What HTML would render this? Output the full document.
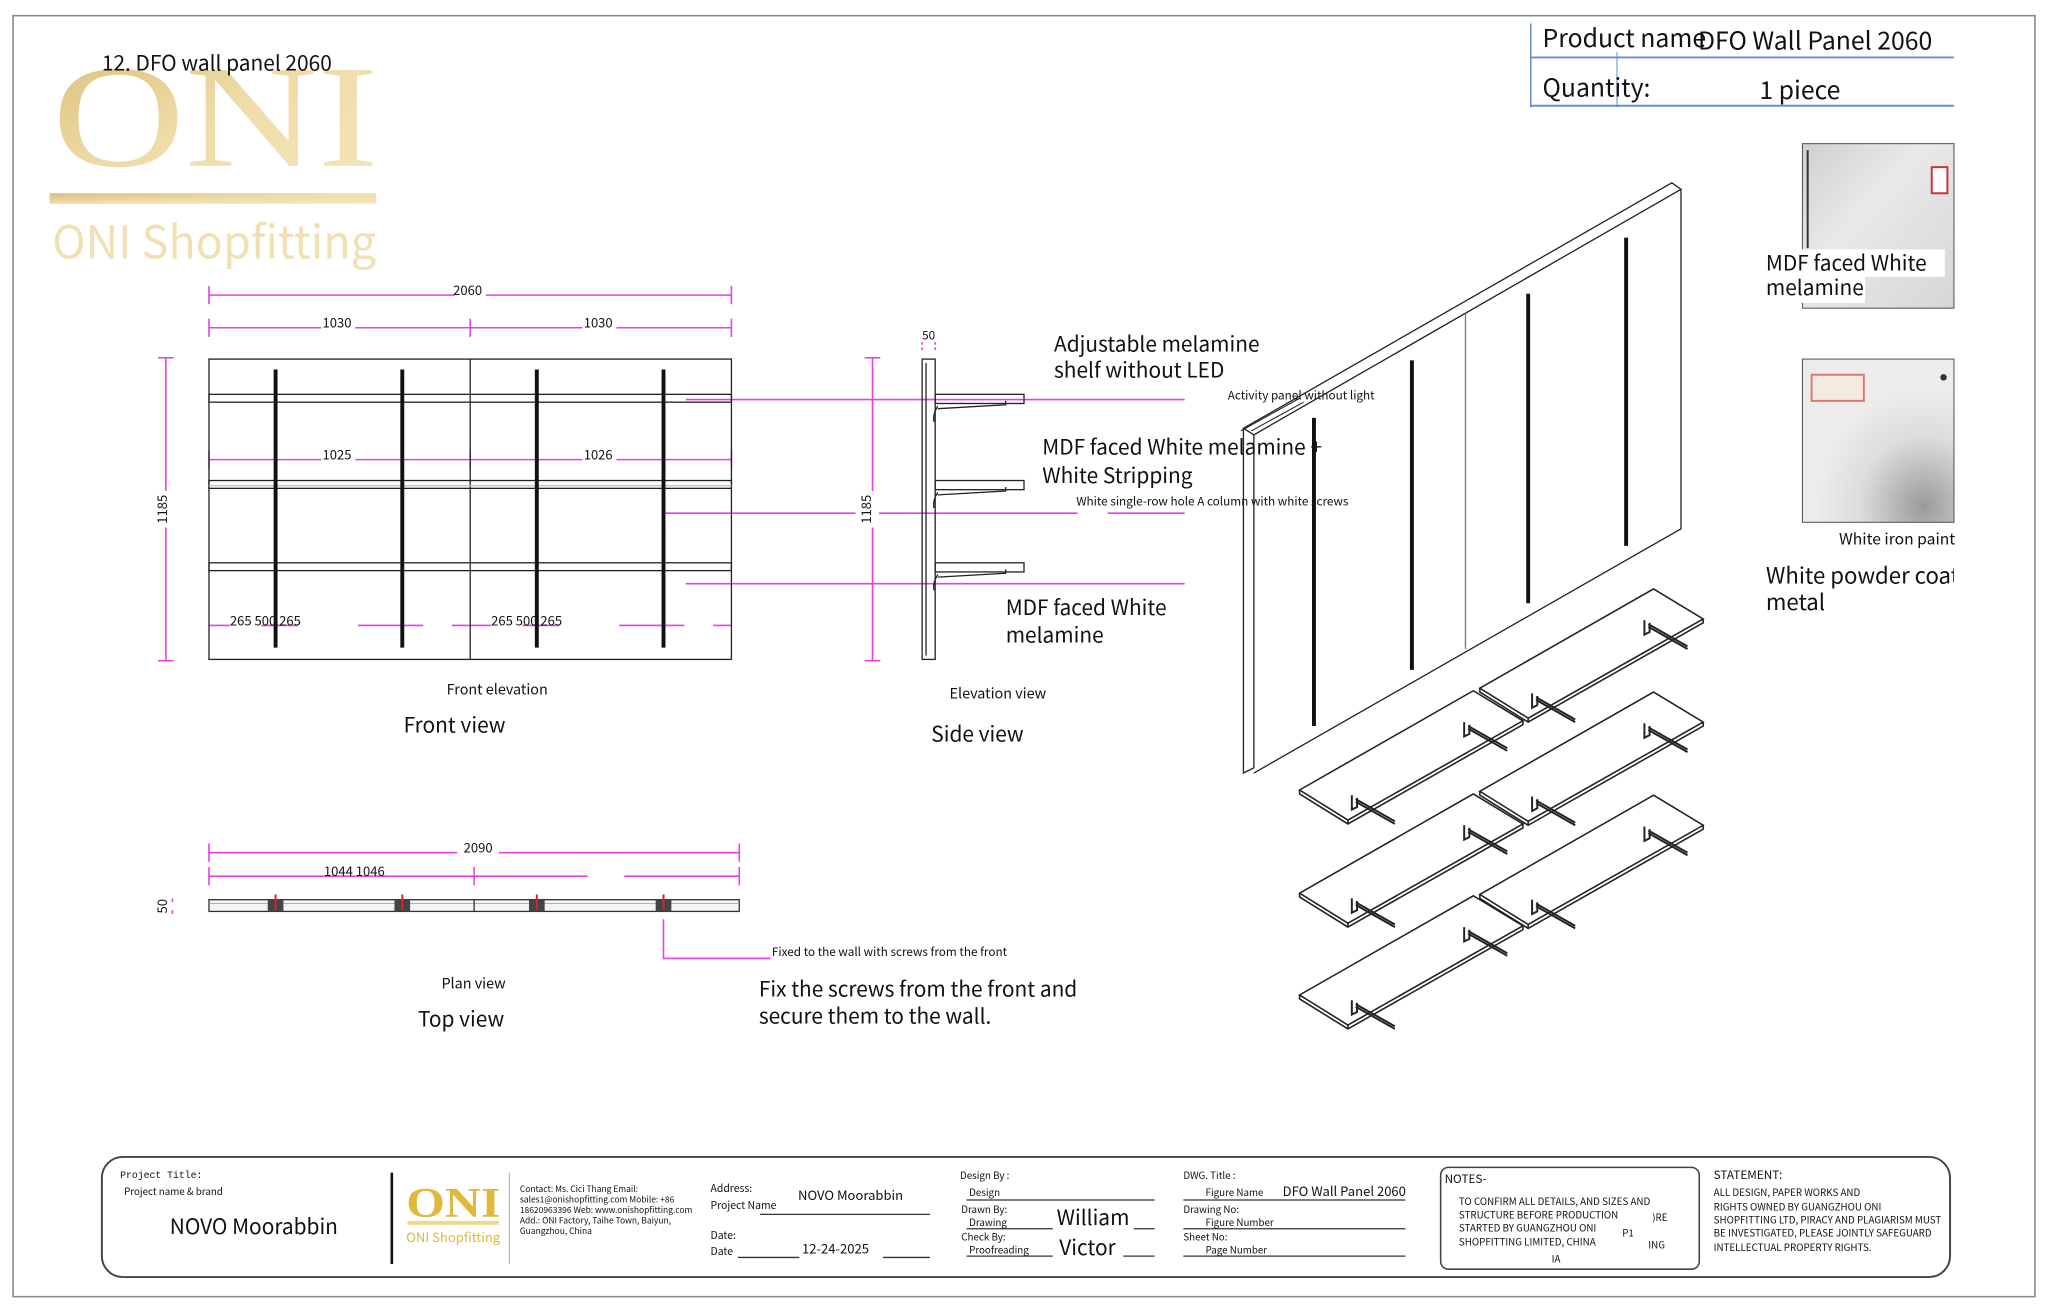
<!DOCTYPE html>
<html><head><meta charset="utf-8"><style>
html,body{margin:0;padding:0;background:#fff}
svg{display:block}
text{font-family:"Noto Sans CJK SC","Liberation Sans",sans-serif;fill:#111}
.pk{stroke:#e83fe8;stroke-width:1.2;fill:none}
.bk{stroke:#222;fill:none;stroke-width:1}
.bar{stroke:#111;stroke-width:3}
</style></head><body>
<svg width="2048" height="1311" viewBox="0 0 1568 1004" preserveAspectRatio="none" xmlns="http://www.w3.org/2000/svg">
<defs>
<linearGradient id="gold" x1="0" x2="1" y1="0" y2="1"><stop offset="0" stop-color="#d9bf78"/><stop offset="0.5" stop-color="#efdca8"/><stop offset="1" stop-color="#f4e6bd"/></linearGradient>
<linearGradient id="ph1" x1="0" x2="1" y1="0" y2="1"><stop offset="0" stop-color="#cfcfcf"/><stop offset="0.4" stop-color="#e9e9e9"/><stop offset="1" stop-color="#d6d6d6"/></linearGradient>
<radialGradient id="ph2" cx="0.8" cy="0.9" r="0.7"><stop offset="0" stop-color="#9a9a9a"/><stop offset="0.6" stop-color="#dcdcdc"/><stop offset="1" stop-color="#ececec"/></radialGradient>
<g id="sh" stroke="#222" fill="none" stroke-width="1.2">
<path d="M0 0L133 -76L171 -53L37 23Z" fill="#fff"/>
<path d="M0 0v3L37 26L171 -50V-53"/>
<path d="M37 23v3"/>
<path d="M40 4v11l4 -2v-7M43 9l30 17M43 7l30 17" stroke-width="1.5"/>
<path d="M126 -52v11l4 -2v-7M129 -47l30 17M129 -49l30 17" stroke-width="1.5"/>
</g>
</defs>
<rect x="10" y="12" width="1548" height="981" fill="none" stroke="#888" stroke-width="1.2"/>
<!-- logo -->
<text x="40" y="127" font-size="112" style="font-family:'Liberation Serif',serif;fill:url(#gold)" textLength="250" lengthAdjust="spacingAndGlyphs">ONI</text>
<rect x="38" y="148" width="250" height="8" fill="url(#gold)"/>
<text x="40" y="198" font-size="35" style="fill:#f0e0b4" textLength="248" lengthAdjust="spacingAndGlyphs">ONI Shopfitting</text>
<text x="78" y="54" font-size="16">12. DFO wall panel 2060</text>
<!-- product table -->
<line x1="1172" y1="18" x2="1172" y2="82" stroke="#6a8fc8" stroke-width="1.2"/>
<line x1="1172" y1="44" x2="1496" y2="44" stroke="#6a8fc8" stroke-width="1.5"/>
<line x1="1172" y1="81" x2="1496" y2="81" stroke="#6a8fc8" stroke-width="1.5"/>
<line x1="1238" y1="40" x2="1238" y2="82" stroke="#6a8fc8" stroke-width="0.8"/>
<text x="1181" y="36" font-size="19">Product name</text>
<text x="1300" y="38" font-size="19">DFO Wall Panel 2060</text>
<text x="1181" y="74" font-size="19">Quantity:</text>
<text x="1347" y="76" font-size="19">1 piece</text>
<!-- photos -->
<rect x="1380" y="110" width="116" height="126" fill="url(#ph1)" stroke="#555" stroke-width="0.8"/>
<line x1="1384" y1="115" x2="1384" y2="190" stroke="#333" stroke-width="1.5"/>
<rect x="1479" y="128" width="12" height="20" fill="#fff" stroke="#c33" stroke-width="1.5"/>
<rect x="1352" y="191" width="137" height="21" fill="#fff"/>
<rect x="1352" y="212" width="76" height="20" fill="#fff"/>
<text x="1352" y="207" font-size="16">MDF faced White</text>
<text x="1352" y="226" font-size="16">melamine</text>
<rect x="1380" y="275" width="116" height="125" fill="url(#ph2)" stroke="#555" stroke-width="0.8"/>
<rect x="1387" y="287" width="40" height="20" fill="#f4eae0" stroke="#d77" stroke-width="1.5"/>
<circle cx="1488" cy="289" r="2.5" fill="#333"/>
<text x="1408" y="417" font-size="12">White iron paint</text>
<svg x="1340" y="425" width="156" height="60"><text x="12" y="22" font-size="17">White powder coated</text><text x="12" y="42" font-size="17">metal</text></svg>
<!-- front view -->
<g class="pk">
<line x1="160" y1="226" x2="348" y2="226"/><line x1="372" y1="226" x2="560" y2="226"/>
<line x1="160" y1="219" x2="160" y2="233"/><line x1="560" y1="219" x2="560" y2="233"/>
<line x1="160" y1="251" x2="246" y2="251"/><line x1="272" y1="251" x2="446" y2="251"/><line x1="472" y1="251" x2="560" y2="251"/>
<line x1="160" y1="244" x2="160" y2="258"/><line x1="360" y1="244" x2="360" y2="258"/><line x1="560" y1="244" x2="560" y2="258"/>
<line x1="160" y1="352" x2="246" y2="352"/><line x1="272" y1="352" x2="446" y2="352"/><line x1="472" y1="352" x2="560" y2="352"/>
<line x1="160" y1="345" x2="160" y2="359"/><line x1="360" y1="345" x2="360" y2="359"/><line x1="560" y1="345" x2="560" y2="359"/>
<path d="M160 479h16M200 479h28M274 479h50M346 479h14M360 479h16M400 479h28M474 479h50M546 479h14" />
<line x1="127" y1="274" x2="127" y2="376"/><line x1="127" y1="404" x2="127" y2="506"/>
<line x1="121" y1="274" x2="133" y2="274"/><line x1="121" y1="506" x2="133" y2="506"/>
<line x1="525" y1="306" x2="907" y2="306"/>
<line x1="508" y1="393" x2="655" y2="393"/><line x1="673" y1="393" x2="825" y2="393"/><line x1="848" y1="393" x2="907" y2="393"/>
<line x1="525" y1="447" x2="907" y2="447"/>
<line x1="668" y1="274" x2="668" y2="376"/><line x1="668" y1="404" x2="668" y2="506"/>
<line x1="662" y1="274" x2="674" y2="274"/><line x1="662" y1="506" x2="674" y2="506"/>
<path d="M706 262v6M716 262v6" stroke-dasharray="2 2"/>
</g>
<text x="358" y="226" font-size="10" text-anchor="middle">2060</text>
<text x="258" y="251" font-size="10" text-anchor="middle">1030</text>
<text x="458" y="251" font-size="10" text-anchor="middle">1030</text>
<text x="258" y="352" font-size="10" text-anchor="middle">1025</text>
<text x="458" y="352" font-size="10" text-anchor="middle">1026</text>
<text x="176" y="479" font-size="10">265 500 265</text>
<text x="376" y="479" font-size="10">265 500 265</text>
<text x="128" y="390" font-size="10" transform="rotate(-90 128 390)" text-anchor="middle">1185</text>
<text x="667" y="390" font-size="10" transform="rotate(-90 667 390)" text-anchor="middle">1185</text>
<text x="711" y="260" font-size="9" text-anchor="middle">50</text>
<g class="bk">
<rect x="160" y="275" width="400" height="230"/>
<line x1="360" y1="275" x2="360" y2="505"/>
<rect x="160" y="302" width="400" height="6"/>
<rect x="160" y="368" width="400" height="6"/>
<line x1="160" y1="372" x2="560" y2="372" stroke="#bbb"/>
<rect x="160" y="431" width="400" height="6"/>
</g>
<g class="bar"><line x1="211" y1="283" x2="211" y2="496"/><line x1="308" y1="283" x2="308" y2="496"/><line x1="411" y1="283" x2="411" y2="496"/><line x1="508" y1="283" x2="508" y2="496"/></g>
<!-- side view -->
<g class="bk">
<rect x="706" y="275" width="10" height="230"/>
<line x1="709" y1="278" x2="709" y2="502"/>
<rect x="716" y="302" width="68" height="7"/><path d="M718 313l52 -3v-3M718 311q-4 6 -3 12"/>
<rect x="716" y="368" width="68" height="7"/><path d="M718 379l52 -3v-3M718 377q-4 6 -3 12"/>
<rect x="716" y="431" width="68" height="7"/><path d="M718 442l52 -3v-3M718 440q-4 6 -3 12"/>
</g>
<text x="807" y="269" font-size="16">Adjustable melamine</text>
<text x="807" y="289" font-size="16">shelf without LED</text>
<text x="940" y="306" font-size="9">Activity panel without light</text>
<text x="798" y="348" font-size="16">MDF faced White melamine +</text>
<text x="798" y="370" font-size="16">White Stripping</text>
<text x="824" y="387" font-size="9">White single-row hole A column with white screws</text>
<text x="770" y="471" font-size="16">MDF faced White</text>
<text x="770" y="492" font-size="16">melamine</text>
<text x="342" y="532" font-size="11">Front elevation</text>
<text x="309" y="561" font-size="16">Front view</text>
<text x="727" y="535" font-size="11">Elevation view</text>
<text x="713" y="568" font-size="16">Side view</text>
<!-- plan view -->
<g class="pk">
<line x1="160" y1="653" x2="350" y2="653"/><line x1="382" y1="653" x2="566" y2="653"/>
<line x1="160" y1="646" x2="160" y2="660"/><line x1="566" y1="646" x2="566" y2="660"/>
<line x1="160" y1="671" x2="450" y2="671"/><line x1="478" y1="671" x2="566" y2="671"/>
<line x1="160" y1="664" x2="160" y2="678"/><line x1="363" y1="664" x2="363" y2="678"/><line x1="566" y1="664" x2="566" y2="678"/>
<path d="M508 704V734H590"/>
<path d="M132 688v3M132 697v3"/>
</g>
<text x="355" y="653" font-size="10">2090</text>
<text x="248" y="671" font-size="10">1044 1046</text>
<text x="128" y="694" font-size="10" transform="rotate(-90 128 694)" text-anchor="middle">50</text>
<rect x="160" y="689" width="406" height="9" fill="#f4f4f4" stroke="#333"/>
<line x1="160" y1="692" x2="566" y2="692" stroke="#999" stroke-width="0.6"/>
<line x1="363" y1="689" x2="363" y2="698" stroke="#333"/>
<g fill="#444"><rect x="205" y="689" width="12" height="9"/><rect x="302" y="689" width="12" height="9"/><rect x="405" y="689" width="12" height="9"/><rect x="502" y="689" width="12" height="9"/></g>
<g stroke="#d22" stroke-width="1.5"><line x1="211" y1="685" x2="211" y2="697"/><line x1="308" y1="685" x2="308" y2="697"/><line x1="411" y1="685" x2="411" y2="697"/><line x1="508" y1="685" x2="508" y2="697"/></g>
<text x="591" y="732" font-size="9">Fixed to the wall with screws from the front</text>
<text x="338" y="757" font-size="11">Plan view</text>
<text x="320" y="786" font-size="16">Top view</text>
<text x="581" y="763" font-size="16">Fix the screws from the front and</text>
<text x="581" y="784" font-size="16">secure them to the wall.</text>
<!-- isometric panel -->
<g class="bk" stroke-width="1.2">
<path d="M952 328L1280 140L1287 145L960 333Z"/>
<path d="M952 328V592L960 588V333"/>
<path d="M1287 145V405L960 592"/>
<line x1="1122" y1="240" x2="1122" y2="497" stroke="#777"/>
<path d="M950 330l45 -25M958 330l40 -22" stroke-width="0.8"/>
</g>
<g class="bar"><line x1="1006" y1="320" x2="1006" y2="556"/><line x1="1081" y1="276" x2="1081" y2="513"/><line x1="1170" y1="225" x2="1170" y2="462"/><line x1="1245" y1="182" x2="1245" y2="418"/></g>
<use href="#sh" x="1133" y="527"/>
<use href="#sh" x="995" y="605"/>
<use href="#sh" x="1133" y="606"/>
<use href="#sh" x="995" y="684"/>
<use href="#sh" x="1133" y="685"/>
<use href="#sh" x="995" y="762"/>
<!-- title block -->
<rect x="78" y="886" width="1415" height="92" rx="16" fill="none" stroke="#444" stroke-width="1.5"/>
<text x="92" y="902" font-size="7.5" style="font-family:'Liberation Mono',monospace">Project Title:</text>
<text x="95" y="915" font-size="7.5">Project name &amp; brand</text>
<text x="130" y="945" font-size="16">NOVO Moorabbin</text>
<line x1="300" y1="898" x2="300" y2="968" stroke="#111" stroke-width="2"/>
<text x="311" y="932" font-size="32" font-weight="bold" style="font-family:'Liberation Serif',serif;fill:#e0b83a" textLength="72" lengthAdjust="spacingAndGlyphs">ONI</text>
<rect x="312" y="935" width="70" height="3" fill="#eed98a"/>
<text x="311" y="951" font-size="10" style="fill:#e0b83a" textLength="72" lengthAdjust="spacingAndGlyphs">ONI Shopfitting</text>
<line x1="390" y1="898" x2="390" y2="968" stroke="#bbb"/>
<g font-size="6.5"><text x="398" y="913">Contact: Ms. Cici Thang Email:</text><text x="398" y="921">sales1@onishopfitting.com Mobile: +86</text><text x="398" y="929">18620963396 Web: www.onishopfitting.com</text><text x="398" y="937">Add.: ONI Factory, Taihe Town, Baiyun,</text><text x="398" y="945">Guangzhou, China</text></g>
<g font-size="8"><text x="544" y="913">Address:</text><text x="544" y="926">Project Name</text><text x="544" y="949">Date:</text><text x="544" y="961">Date</text></g>
<text x="611" y="919" font-size="10">NOVO Moorabbin</text>
<text x="614" y="960" font-size="10">12-24-2025</text>
<g stroke="#333" stroke-width="1"><line x1="582" y1="930" x2="712" y2="930"/><line x1="565" y1="963" x2="612" y2="963"/><line x1="676" y1="963" x2="712" y2="963"/>
<line x1="740" y1="919" x2="884" y2="919"/><line x1="740" y1="941" x2="806" y2="941"/><line x1="868" y1="941" x2="884" y2="941"/><line x1="740" y1="962" x2="806" y2="962"/><line x1="860" y1="962" x2="884" y2="962"/>
<line x1="906" y1="919" x2="1076" y2="919"/><line x1="906" y1="941" x2="1076" y2="941"/><line x1="906" y1="962" x2="1076" y2="962"/></g>
<g font-size="7.5"><text x="735" y="903">Design By    :</text><text x="742" y="916">Design</text><text x="736" y="929">Drawn By:</text><text x="742" y="939">Drawing</text><text x="736" y="950">Check By:</text><text x="742" y="960">Proofreading</text>
<text x="906" y="903">DWG. Title    :</text><text x="923" y="916">Figure Name</text><text x="906" y="929">Drawing No:</text><text x="923" y="939">Figure Number</text><text x="906" y="950">Sheet No:</text><text x="923" y="960">Page Number</text></g>
<text x="809" y="938" font-size="16">William</text>
<text x="811" y="961" font-size="16">Victor</text>
<text x="982" y="916" font-size="10">DFO Wall Panel 2060</text>
<rect x="1103" y="894" width="198" height="78" rx="6" fill="none" stroke="#444" stroke-width="1.2"/>
<text x="1106" y="906" font-size="9">NOTES-</text>
<g font-size="7.5"><text x="1117" y="923">TO CONFIRM ALL DETAILS, AND SIZES AND</text><text x="1117" y="933">STRUCTURE BEFORE PRODUCTION</text><text x="1117" y="943">STARTED BY GUANGZHOU ONI</text><text x="1117" y="954">SHOPFITTING LIMITED, CHINA</text><text x="1265" y="935">)RE</text><text x="1262" y="956">ING</text><text x="1242" y="947">P1</text><text x="1188" y="967">IA</text></g>
<text x="1312" y="903" font-size="9">STATEMENT:</text>
<g font-size="7.5"><text x="1312" y="916">ALL DESIGN, PAPER WORKS AND</text><text x="1312" y="927">RIGHTS OWNED BY GUANGZHOU ONI</text><text x="1312" y="937">SHOPFITTING LTD, PIRACY AND PLAGIARISM MUST</text><text x="1312" y="947">BE INVESTIGATED, PLEASE JOINTLY SAFEGUARD</text><text x="1312" y="958">INTELLECTUAL PROPERTY RIGHTS.</text></g>
</svg>
</body></html>
